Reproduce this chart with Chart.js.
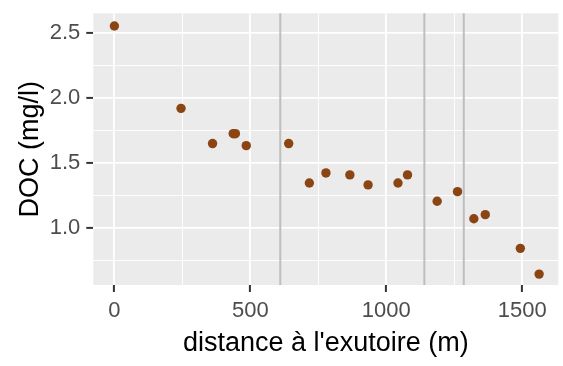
<!DOCTYPE html>
<html>
<head>
<meta charset="utf-8">
<script src="https://cdn.jsdelivr.net/npm/chart.js@4/dist/chart.umd.min.js"></script>
<style>
  html, body { margin: 0; padding: 0; background: #fff; }
  #wrap { width: 563px; height: 366px; }
</style>
</head>
<body>
<div id="wrap"><canvas id="c"></canvas></div>
<script>
// distance to the outlet (m) and DOC (mg/l)
const distance = [0, 245, 361, 437, 445, 485, 641, 717, 778, 866, 933, 1043, 1078, 1187, 1262, 1322, 1364, 1493, 1562]
const doc = [2.556, 1.923, 1.652, 1.728, 1.728, 1.636, 1.652, 1.349, 1.426, 1.411, 1.334, 1.349, 1.411, 1.208, 1.282, 1.074, 1.105, 0.846, 0.648]

// vertical reference lines
const markers = [610, 1140, 1285]

const xTicks = [0, 250, 500, 750, 1000, 1250, 1500]
const yTicks = [0.75, 1.0, 1.25, 1.5, 1.75, 2.0, 2.25, 2.5]
const xLabels = [0, 500, 1000, 1500]
const yLabels = [1.0, 1.5, 2.0, 2.5]

const panelBg = {
  id: 'panelBg',
  beforeDraw(chart) {
    const { ctx, chartArea: a } = chart
    ctx.save()
    ctx.fillStyle = '#EBEBEB'
    ctx.fillRect(a.left, a.top, a.right - a.left, a.bottom - a.top)
    ctx.restore()
  }
}

const vlines = {
  id: 'vlines',
  beforeDatasetsDraw(chart) {
    const { ctx, chartArea: a, scales } = chart
    ctx.save()
    ctx.strokeStyle = '#BEBEBE'
    ctx.lineWidth = 2
    markers.forEach(m => {
      const x = scales.x.getPixelForValue(m)
      ctx.beginPath()
      ctx.moveTo(x, a.top)
      ctx.lineTo(x, a.bottom)
      ctx.stroke()
    })
    ctx.restore()
  }
}

const isMajor = (v, list) => list.some(l => Math.abs(l - v) < 1e-6)

// drop the extra room chart.js keeps for edge labels
const noEdgePad = s => {
  s.paddingTop = 0
  s.paddingBottom = 0
  s.paddingLeft = 0
  s.paddingRight = 0
}

new Chart(document.getElementById('c'), {
  type: 'scatter',
  data: {
    datasets: [{
      data: distance.map((d, i) => ({ x: d, y: doc[i] })),
      backgroundColor: '#8B4513',
      borderWidth: 0,
      pointRadius: 4.7,
      pointHoverRadius: 4.7
    }]
  },
  options: {
    responsive: true,
    maintainAspectRatio: false,
    animation: false,
    events: [],
    layout: { padding: { top: 13.3, right: 3, left: 0, bottom: 0 } },
    plugins: { legend: { display: false }, tooltip: { enabled: false } },
    scales: {
      x: {
        type: 'linear',
        min: -77.6,
        max: 1632.6,
        afterBuildTicks: s => { s.ticks = xTicks.map(v => ({ value: v })) },
        afterFit: s => { s.height = 81; noEdgePad(s) },
        border: { display: false },
        grid: {
          color: '#FFFFFF',
          lineWidth: c => isMajor(c.tick.value, xLabels) ? 1.8 : 0.9,
          tickColor: c => isMajor(c.tick.value, xLabels) ? '#333333' : 'rgba(0,0,0,0)',
          tickWidth: 2,
          tickLength: 7,
          z: -1
        },
        ticks: {
          padding: 6,
          color: '#4D4D4D',
          font: { family: 'Liberation Sans', size: 22 },
          callback: v => isMajor(v, xLabels) ? String(v) : ''
        },
        title: {
          display: true,
          text: "distance à l'exutoire (m)",
          color: '#000000',
          font: { family: 'Liberation Sans', size: 27 },
          padding: { top: 0, bottom: 6 }
        }
      },
      y: {
        type: 'linear',
        min: 0.564,
        max: 2.654,
        afterBuildTicks: s => { s.ticks = yTicks.map(v => ({ value: v })) },
        afterFit: s => { s.width = 93.3; noEdgePad(s) },
        border: { display: false },
        grid: {
          color: '#FFFFFF',
          lineWidth: c => isMajor(c.tick.value, yLabels) ? 1.8 : 0.9,
          tickColor: c => isMajor(c.tick.value, yLabels) ? '#333333' : 'rgba(0,0,0,0)',
          tickWidth: 2,
          tickLength: 7,
          z: -1
        },
        ticks: {
          padding: 6,
          color: '#4D4D4D',
          font: { family: 'Liberation Sans', size: 22 },
          callback: v => isMajor(v, yLabels) ? v.toFixed(1) : ''
        },
        title: {
          display: true,
          text: 'DOC (mg/l)',
          color: '#000000',
          font: { family: 'Liberation Sans', size: 27 },
          padding: { top: 14, bottom: 0 }
        }
      }
    }
  },
  plugins: [panelBg, vlines]
})
</script>
</body>
</html>
